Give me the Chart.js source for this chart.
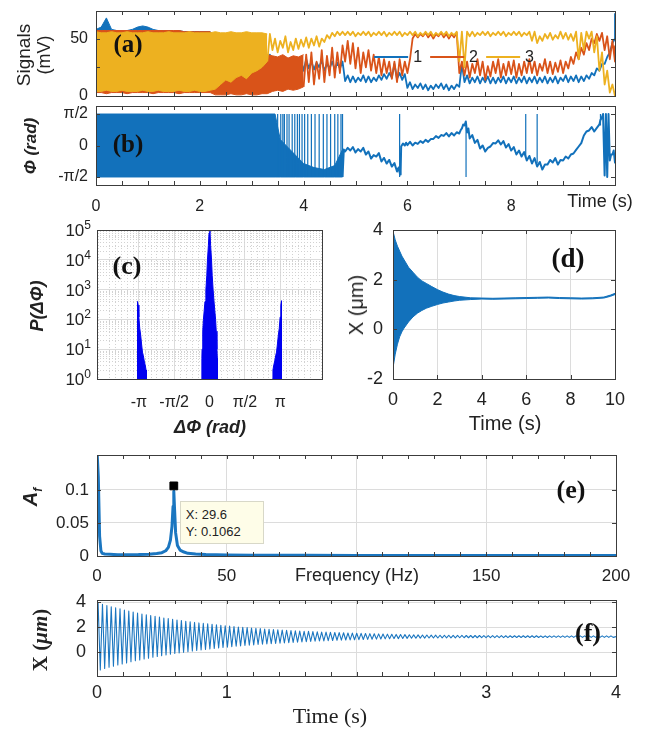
<!DOCTYPE html>
<html>
<head>
<meta charset="utf-8">
<script src="https://cdn.jsdelivr.net/npm/chart.js@4.4.0/dist/chart.umd.min.js"></script>
<style>
body { margin: 0; background: #fff; }
#wrap { position: relative; width: 649px; height: 738px; overflow: hidden; }
canvas { position: absolute; left: 0; top: 0; }
.t { position: absolute; white-space: nowrap; transform: translate(-50%, -50%); font-family: "Liberation Sans", Arial, sans-serif; color: #222; line-height: 1; }
.r { transform: translate(-50%, -50%) rotate(-90deg); }
.pl { font-family: "Liberation Serif", "Times New Roman", serif; font-weight: bold; font-size: 25px; color: #111; }
.bi { font-weight: bold; font-style: italic; }
.lt { transform: translate(-100%, -50%); }
</style>
</head>
<body>
<div id="wrap">
<canvas id="ca" width="649" height="738"></canvas>
<canvas id="cb" width="649" height="738"></canvas>
<canvas id="cc" width="649" height="738"></canvas>
<canvas id="cd" width="649" height="738"></canvas>
<canvas id="ce" width="649" height="738"></canvas>
<canvas id="cf" width="649" height="738"></canvas>
</div>
<script>
// ---- (a) signals, sampled every 0.1 s from 0 to 10 s (low..high swing of the trace)
const sigStep = 0.1;
const sig1DenseEnd = 3.3, sig2DenseEnd = 4.0, sig3DenseEnd = 3.3;
const sig1High = [58,60,68,58,57,57,57,58,60,61,60,58,57,57,57,56,57,56,56,56,56,56,56,
  50,48,45,46,44,40,42,40,38,40,36,
  30,32,30,33,30,31,32,
  30,29,31,28,30,29,30,
  18,17,16,18,17,16,18,19,20,28,20,19,12,
  10,11,10,9,10,11,10,9,10,28,
  18,16,17,16,17,16,16,17,16,17,16,17,16,
  17,16,17,16,17,16,18,17,18,17,18,20,
  24,28,34,46,72];
const sig1Low = [4,4,4,4,4,4,4,4,4,4,4,4,4,4,4,4,4,4,4,4,4,4,4,
  5,5,6,5,6,6,5,6,6,5,6,
  8,10,12,15,18,20,22,
  24,23,25,22,24,23,24,
  13,12,12,13,12,12,13,14,15,16,15,14,7,
  6,7,6,5,6,7,6,5,6,8,
  12,11,12,11,12,11,11,12,11,12,11,12,11,
  12,11,12,11,12,11,13,12,13,12,13,15,
  18,22,28,38,50];
const sig2High = [57,57,57,57,57,57,57,57,57,57,57,57,57,57,57,57,57,56,56,56,56,56,56,
  40,38,35,36,34,35,33,36,35,34,36,
  35,34,36,33,35,34,36,
  38,30,40,35,42,38,44,
  48,46,42,38,40,36,34,32,30,30,32,30,32,
  54,54,55,54,54,55,54,54,55,30,
  30,28,32,30,26,30,32,28,30,31,28,30,32,
  30,28,32,30,29,31,30,34,38,42,46,50,
  54,55,52,48,44];
const sig2Low = [3,3,2,3,3,3,2,3,3,3,3,2,3,3,3,3,2,3,3,3,3,3,3,
  1,1,1,2,1,1,2,1,1,2,2,
  4,5,4,6,5,6,8,
  12,10,15,12,18,16,20,
  30,28,24,20,25,22,20,18,20,15,12,18,20,
  50,51,52,51,50,52,51,50,51,20,
  18,16,20,18,14,17,20,16,18,19,16,18,20,
  20,18,22,20,19,21,20,24,28,32,36,40,
  46,48,40,32,30];
const sig3High = [56,55,55,56,55,55,56,55,55,55,56,55,55,55,56,55,55,55,56,55,55,55,55,
  56,55,55,56,55,55,56,55,55,55,54,
  50,48,52,47,50,49,51,
  50,52,50,53,55,56,56,
  56,56,55,56,56,55,56,56,55,56,56,55,56,
  56,55,56,56,55,56,56,55,56,56,
  56,56,55,56,56,55,56,56,55,56,56,55,56,
  56,52,54,55,53,56,55,54,56,55,56,56,
  52,38,22,10,4];
const sig3Low = [4,4,5,4,4,5,4,4,4,5,4,4,5,4,4,4,5,4,4,5,4,4,5,
  6,10,14,12,16,18,15,20,22,25,30,
  40,38,42,38,40,41,43,
  42,44,43,47,50,52,53,
  53,53,52,53,53,52,53,53,52,53,53,52,53,
  53,52,53,53,52,53,53,52,53,30,
  25,52,52,53,53,52,53,53,52,53,53,52,53,
  48,46,48,50,49,50,50,49,48,32,40,50,
  38,22,10,3,0];

// ---- (b) phase
const phiDenseEnd = 4.75;
const phiTime = [0,3.45,3.55,3.7,3.85,4.0,4.2,4.4,4.6,4.75,4.8,4.9,5.0,5.1,5.2,5.3,5.4,5.5,5.6,5.7,5.8,5.86,
  5.88,5.95,6.0,6.1,6.2,6.3,6.4,6.5,6.6,6.7,6.8,6.9,7.0,7.05,7.1,7.15,7.2,7.3,7.4,7.5,7.6,7.7,7.8,7.9,
  8.0,8.1,8.2,8.3,8.4,8.5,8.6,8.7,8.8,8.9,9.0,9.1,9.2,9.3,9.4,9.5,9.6,9.7,9.74,9.8,9.85,9.9,9.95,10];
const phiLow = [-1.57,-1.57,-1.57,-1.57,-1.57,-1.57,-1.57,-1.57,-1.57,-1.57,-0.3,-0.25,-0.35,-0.3,-0.45,-0.65,-0.55,-0.8,-0.9,-1.05,-1.3,-1.45,
  -0.05,0.0,0.02,0.0,0.08,0.13,0.18,0.33,0.38,0.48,0.45,0.5,0.6,0.85,1.0,0.65,0.35,0.13,-0.15,-0.3,-0.05,0.1,0.05,-0.1,
  -0.25,-0.45,-0.55,-0.75,-0.9,-1.05,-1.2,-0.95,-0.85,-0.95,-0.75,-0.65,-0.4,-0.05,0.5,0.75,0.7,1.05,1.35,-1.5,-1.57,-0.75,-0.45,-0.85];
const phiHigh = [1.57,1.57,0.3,-0.1,-0.5,-0.9,-1.1,-1.2,-1.0,-0.2,-0.12,-0.08,-0.18,-0.12,-0.3,-0.48,-0.38,-0.62,-0.72,-0.88,-1.1,-1.25,
  0.1,0.14,0.18,0.14,0.22,0.28,0.32,0.47,0.52,0.62,0.62,0.66,0.76,1.05,1.2,0.85,0.52,0.28,0.0,-0.12,0.12,0.26,0.22,0.07,
  -0.08,-0.25,-0.33,-0.52,-0.63,-0.82,-0.95,-0.72,-0.63,-0.72,-0.55,-0.45,-0.22,0.12,0.7,0.92,0.88,1.28,1.57,1.57,1.57,-0.45,-0.25,-0.62];
const phiSpikeTime = [3.5,3.56,3.6,3.63,3.68,3.72,3.78,3.83,3.88,3.92,3.97,4.02,4.08,4.15,4.22,4.3,4.38,4.45,4.52,4.6,4.66,4.72,4.75,5.85,7.13,8.28,8.5,9.72];
const phiSpikeLow = [-1.57,-1.57,-1.57,-1.57,-1.57,-1.57,-1.57,-1.57,-1.57,-1.57,-1.57,-1.57,-1.57,-1.57,-1.57,-1.57,-1.57,-1.57,-1.57,-1.57,-1.57,-1.57,-1.57,-1.57,-1.57,-0.6,-0.9,1.0];
const phiSpikeHigh = [1.57,1.57,1.57,1.57,1.57,1.57,1.57,1.57,1.57,1.57,1.57,1.57,1.57,1.57,1.57,1.57,1.57,1.57,1.57,1.57,1.57,1.57,1.57,1.57,1.1,1.57,1.57,1.57];

// ---- (c) histogram of phase difference
const cNegX = [-3.20,-3.20,-3.17,-3.14,-3.10,-3.06,-3.02,-2.98,-2.94,-2.90,-2.86,-2.82,-2.80];
const cNegY = [1,400,300,120,50,30,15,8,6,4,3,2,1];
const cMidX = [-0.34,-0.34,-0.33,-0.30,-0.27,-0.20,-0.16,-0.12,-0.09,-0.05,-0.02,0.02,0.05,0.09,0.12,0.16,0.20,0.27,0.30,0.33,0.35,0.35];
const cMidY = [1,5,10,40,100,400,1000,3000,10000,30000,80000,100000,30000,10000,3000,1000,400,100,40,10,5,1];
const cPosX = [2.80,2.82,2.86,2.90,2.94,2.98,3.02,3.06,3.10,3.14,3.17,3.20,3.20];
const cPosY = [1,2,3,4,6,8,15,30,50,120,300,420,1];
const cTicks = [1, 10, 100, 1000, 10000, 100000];

// ---- (d) displacement envelope over 10 s
const dTime = [0,0.1,0.2,0.3,0.4,0.5,0.7,0.9,1.1,1.3,1.5,1.75,2.0,2.25,2.5,2.75,3.0,3.5,4,4.5,5,5.5,6,6.5,7,7.5,8,8.5,9,9.5,9.8,10];
const dHigh = [3.95,3.6,3.35,3.15,2.95,2.8,2.5,2.3,2.1,1.95,1.85,1.72,1.6,1.5,1.42,1.36,1.32,1.27,1.26,1.25,1.26,1.27,1.28,1.29,1.3,1.28,1.27,1.26,1.27,1.3,1.38,1.45];
const dLow = [-1.55,-1.0,-0.6,-0.3,-0.1,0.05,0.3,0.5,0.65,0.76,0.85,0.93,1.0,1.06,1.1,1.14,1.17,1.2,1.22,1.21,1.22,1.23,1.24,1.25,1.26,1.24,1.23,1.22,1.23,1.26,1.33,1.40];

// ---- (e) spectrum
const eFreq = [0,0.5,1,1.5,2,3,5,8,12,16,20,23,25,26.5,27.5,28.3,28.9,29.3,29.6,29.9,30.3,31,32,33.5,35,38,42,50,60,80,100,130,160,200];
const eAmp = [0.16,0.12,0.03,0.008,0.004,0.003,0.0025,0.002,0.002,0.0022,0.0028,0.0038,0.005,0.008,0.013,0.024,0.045,0.075,0.098,0.07,0.035,0.016,0.009,0.006,0.004,0.003,0.0022,0.0015,0.0012,0.001,0.0008,0.0007,0.0006,0.0006];
const ePeak = { x: 29.6, y: 0.1062 };

// ---- (f) displacement, one peak and one trough per cycle at 29.6 Hz
const fFreq = 29.6;
const fStart = 1.3;
const fPeak = [3.98,3.86,3.76,3.66,3.57,3.49,3.40,3.31,3.24,3.15,
  3.08,3.02,2.95,2.89,2.83,2.76,2.71,2.65,2.60,2.55,
  2.50,2.45,2.40,2.36,2.32,2.28,2.24,2.20,2.16,2.13,
  2.10,2.06,2.03,2.00,1.98,1.95,1.92,1.90,1.87,1.85,
  1.83,1.81,1.79,1.77,1.75,1.73,1.71,1.69,1.68,1.66,
  1.65,1.63,1.62,1.60,1.59,1.58,1.57,1.55,1.54,1.53,
  1.52,1.51,1.50,1.49,1.48,1.47,1.46,1.45,1.44,1.43,1.42,
  1.41,1.40,1.40,1.39,1.39,1.38,1.38,1.37,1.37,1.37,
  1.36,1.36,1.36,1.35,1.35,1.35,1.35,1.34,1.34,1.34,
  1.34,1.34,1.33,1.33,1.33,1.33,1.33,1.33,1.33,1.33,
  1.32,1.32,1.32,1.32,1.32,1.32,1.32,1.32,1.32,1.32,
  1.32,1.32,1.32,1.32,1.32,1.32,1.32];
const fTrough = [-1.42,-1.30,-1.20,-1.12,-1.02,-0.93,-0.85,-0.76,-0.68,-0.61,
  -0.53,-0.47,-0.40,-0.34,-0.28,-0.21,-0.16,-0.10,-0.05,0.00,
  0.05,0.10,0.15,0.19,0.23,0.27,0.31,0.35,0.39,0.42,
  0.45,0.49,0.52,0.55,0.57,0.60,0.63,0.65,0.68,0.70,
  0.72,0.74,0.76,0.78,0.80,0.82,0.84,0.86,0.88,0.89,
  0.91,0.92,0.94,0.95,0.97,0.98,0.99,1.00,1.01,1.02,
  1.03,1.04,1.05,1.06,1.07,1.08,1.09,1.10,1.10,1.11,1.12,
  1.13,1.13,1.14,1.14,1.15,1.15,1.15,1.16,1.16,1.16,
  1.16,1.17,1.17,1.17,1.17,1.17,1.18,1.18,1.18,1.18,
  1.18,1.18,1.18,1.19,1.19,1.19,1.19,1.19,1.19,1.19,
  1.19,1.19,1.20,1.20,1.20,1.20,1.20,1.20,1.20,1.20,
  1.20,1.20,1.20,1.20,1.20,1.20,1.20];

const W = 649, H = 738;
const BLUE = '#1271bb', ORANGE = '#d95319', YELLOW = '#edb120';
const SANS = '"Liberation Sans", "DejaVu Sans", Arial, sans-serif';
const PI = Math.PI;
const wrap = document.getElementById('wrap');

// box around the plot area plus small inward ticks, like the original figure
const framePlugin = {
  id: 'frame',
  afterDatasetsDraw(chart, args, o) {
    const ctx = chart.ctx, a = chart.chartArea, sx = chart.scales.x, sy = chart.scales.y;
    ctx.save();
    ctx.strokeStyle = '#3c3c3c';
    ctx.lineWidth = 1;
    ctx.beginPath();
    (o.xt || []).forEach(v => {
      const p = Math.round(sx.getPixelForValue(v)) + 0.5;
      ctx.moveTo(p, a.bottom); ctx.lineTo(p, a.bottom - 4);
      ctx.moveTo(p, a.top); ctx.lineTo(p, a.top + 4);
    });
    (o.yt || []).forEach(v => {
      const p = Math.round(sy.getPixelForValue(v)) + 0.5;
      ctx.moveTo(a.left, p); ctx.lineTo(a.left + 4, p);
      ctx.moveTo(a.right, p); ctx.lineTo(a.right - 4, p);
    });
    ctx.stroke();
    ctx.strokeRect(Math.round(a.left) + 0.5, Math.round(a.top) + 0.5, Math.round(a.right - a.left), Math.round(a.bottom - a.top));
    ctx.restore();
  }
};

// dotted minor grid for the histogram panel
const minorGridPlugin = {
  id: 'minorGrid',
  beforeDatasetsDraw(chart, args, o) {
    if (!o.on) return;
    const ctx = chart.ctx, a = chart.chartArea, sx = chart.scales.x, sy = chart.scales.y;
    ctx.save();
    ctx.strokeStyle = '#d2d2d2';
    ctx.setLineDash([1, 2]);
    ctx.lineWidth = 1;
    ctx.beginPath();
    for (let d = 0; d < 5; d++) {
      for (let k = 2; k < 10; k++) {
        const p = Math.round(sy.getPixelForValue(k * Math.pow(10, d))) + 0.5;
        ctx.moveTo(a.left, p); ctx.lineTo(a.right, p);
      }
    }
    for (let k = -19; k <= 19; k++) {
      if (k % 6 === 0) continue;
      const p = Math.round(sx.getPixelForValue(k * PI / 12)) + 0.5;
      if (p <= a.left || p >= a.right) continue;
      ctx.moveTo(p, a.top); ctx.lineTo(p, a.bottom);
    }
    ctx.stroke();
    ctx.restore();
  }
};

function axis(min, max, ticks, labels, size, pad, horizontal, grid, type) {
  return {
    type: type || 'linear', min: min, max: max,
    afterFit(s) {
      if (horizontal) { s.height = 40; } else { s.width = 60; }
      s.paddingLeft = 0; s.paddingRight = 0; s.paddingTop = 0; s.paddingBottom = 0;
    },
    afterBuildTicks(s) { s.ticks = ticks.map(v => ({ value: v })); },
    ticks: {
      display: labels !== null, autoSkip: false, maxRotation: 0, padding: pad, color: '#222',
      font: { family: SANS, size: size },
      callback: (v, i) => labels ? labels[i] : ''
    },
    grid: { display: !!grid, color: '#dcdcdc', drawTicks: false },
    border: { display: false }
  };
}

function panel(id, box, datasets, xAxis, yAxis, frame, extra) {
  const plugins = { legend: { display: false }, tooltip: { enabled: false }, frame: frame, minorGrid: { on: !!extra } };
  return new Chart(document.getElementById(id).getContext('2d'), {
    type: 'line',
    data: { datasets: datasets },
    options: {
      responsive: false, animation: false, events: [],
      layout: { padding: { left: box.l - 60, top: box.t, right: W - box.r, bottom: H - box.b - 40 } },
      elements: { point: { radius: 0 }, line: { tension: 0, borderJoinStyle: 'round' } },
      plugins: plugins,
      scales: { x: xAxis, y: yAxis }
    },
    plugins: [framePlugin, minorGridPlugin]
  });
}

// solid band where the trace oscillates too fast to resolve, a jagged line after denseEnd
function trace(times, lows, highs, denseEnd, color, order, width) {
  const lo = [], hi = [], line = [];
  times.forEach((t, i) => {
    if (t <= denseEnd + 1e-9) {
      lo.push({ x: t, y: lows[i] });
      hi.push({ x: t, y: highs[i] });
    }
    if (t >= denseEnd - 1e-9) {
      const next = i + 1 < times.length ? times[i + 1] : t;
      line.push({ x: t, y: lows[i] }, { x: (t + next) / 2, y: highs[i] });
    }
  });
  return [
    { data: lo, borderColor: color, borderWidth: 1, fill: false, order: order },
    { data: hi, borderColor: color, borderWidth: 1, backgroundColor: color, fill: '-1', order: order },
    { data: line, borderColor: color, borderWidth: width || 1.8, fill: false, order: order }
  ];
}

function steps(n, step) {
  const out = [];
  for (let i = 0; i < n; i++) out.push(Math.round(i * step * 1000) / 1000);
  return out;
}

function range(a, b, s) {
  const out = [];
  for (let v = a; v <= b + 1e-9; v += s) out.push(Math.round(v * 1000) / 1000);
  return out;
}

// (a)
const sigTime = steps(sig1High.length, sigStep);
panel('ca', { l: 96, t: 11, r: 615, b: 96 },
  [].concat(trace(sigTime, sig1Low, sig1High, sig1DenseEnd, BLUE, 2),
    trace(sigTime, sig2Low, sig2High, sig2DenseEnd, ORANGE, 1),
    trace(sigTime, sig3Low, sig3High, sig3DenseEnd, YELLOW, 0)),
  axis(0, 10, [0, 2, 4, 6, 8, 10], null, 16, 12, true),
  axis(0, 74, [0, 50], ['0', '50'], 16, 8, false),
  { xt: range(0, 10, 0.5), yt: [0, 25, 50] });

// (b)
const spikes = [];
phiSpikeTime.forEach((t, i) => {
  spikes.push({ x: t, y: phiSpikeLow[i] }, { x: t, y: phiSpikeHigh[i] }, { x: t, y: null });
});
panel('cb', { l: 96, t: 106, r: 615, b: 185 },
  trace(phiTime, phiLow, phiHigh, phiDenseEnd, BLUE, 1, 2).concat([{ data: spikes, borderColor: BLUE, borderWidth: 1.2, fill: false, order: 0 }]),
  axis(0, 10, [0, 2, 4, 6, 8, 10], ['0', '2', '4', '6', '8', ''], 16, 12, true),
  axis(-1.97, 1.97, [-PI / 2, 0, PI / 2], ['-\u03c0/2', '0', '\u03c0/2'], 16, 8, false),
  { xt: range(0, 10, 0.5), yt: [-PI / 2, 0, PI / 2] });

// (c)
const cColor = '#0000f0';
function hist(xs, ys) {
  return { data: xs.map((x, i) => ({ x: x, y: ys[i] })), borderColor: cColor, borderWidth: 1, backgroundColor: cColor, fill: 'start' };
}
const cChart = panel('cc', { l: 97, t: 230, r: 322, b: 379 },
  [hist(cNegX, cNegY), hist(cMidX, cMidY), hist(cPosX, cPosY)],
  axis(-5, 5, [-PI, -PI / 2, 0, PI / 2, PI], ['-\u03c0', '-\u03c0/2', '0', '\u03c0/2', '\u03c0'], 16, 14, true, true),
  axis(1, 100000, cTicks, ['', '', '', '', '', ''], 17, 7, false, true, 'logarithmic'),
  {}, true);

// (d)
panel('cd', { l: 393, t: 230, r: 615, b: 379 },
  trace(dTime, dLow, dHigh, 10, BLUE, 0),
  axis(0, 10, [0, 2, 4, 6, 8, 10], ['0', '2', '4', '6', '8', '10'], 18, 10, true, true),
  axis(-2, 4, [-2, 0, 2, 4], ['-2', '0', '2', '4'], 18, 10, false, true),
  { xt: [0, 2, 4, 6, 8, 10], yt: [-2, 0, 2, 4] });

// (e)
const eChart = panel('ce', { l: 97, t: 455, r: 616, b: 556 },
  [
    { data: [ePeak], showLine: false, pointStyle: 'rect', pointRadius: 5.5, backgroundColor: '#000', borderColor: '#000', order: 0 },
    { data: eFreq.map((f, i) => ({ x: f, y: eAmp[i] })), borderColor: '#1b76c0', borderWidth: 3, fill: false, order: 1 }
  ],
  axis(0, 200, [0, 50, 100, 150, 200], ['0', '50', '', '150', '200'], 17, 10, true, true),
  axis(0, 0.153, [0, 0.05, 0.1], ['0', '0.05', '0.1'], 17, 8, false, true),
  { xt: range(0, 200, 10), yt: [0, 0.05, 0.1] });

// (f)
const fData = [{ x: 0, y: fStart }];
for (let k = 0; k < Math.min(fPeak.length, fTrough.length); k++) {
  fData.push({ x: (k + 0.25) / fFreq, y: fPeak[k] }, { x: (k + 0.75) / fFreq, y: fTrough[k] });
}
fData.push({ x: 4, y: 1.26 });
panel('cf', { l: 97, t: 600, r: 616, b: 676 },
  [{ data: fData, borderColor: '#1b76c0', borderWidth: 1.1, fill: false }],
  axis(0, 4, [0, 1, 2, 3, 4], ['0', '1', '', '3', '4'], 18, 6, true, true),
  axis(-1.9, 4.2, [0, 2, 4], ['0', '2', '4'], 18, 11, false, true),
  { xt: range(0, 4, 0.2), yt: [0, 2, 4] });

// ---- texts
function addText(html, x, y, cls, css) {
  const d = document.createElement('div');
  d.className = 't ' + (cls || '');
  d.innerHTML = html;
  d.style.left = x + 'px';
  d.style.top = y + 'px';
  if (css) d.style.cssText += css;
  wrap.appendChild(d);
  return d;
}

// log tick labels of (c) with real superscripts
cTicks.forEach((v, i) => {
  addText('10<sup style="font-size:12px;vertical-align:7px">' + i + '</sup>', 91, cChart.scales.y.getPixelForValue(v) - 1, 'lt', 'font-size:17px;');
});

addText('(a)', 128, 43, 'pl');
addText('(b)', 128, 143, 'pl');
addText('(c)', 127, 266, 'pl', 'font-size:26px;');
addText('(d)', 568, 258, 'pl', 'font-size:27px;');
addText('(e)', 571, 490, 'pl', 'font-size:26px;');
addText('(f)', 588, 633, 'pl', 'font-size:26px;');

addText('Signals', 23, 55, 'r', 'font-size:19px;');
addText('(mV)', 44, 55, 'r', 'font-size:18px;');
addText('\u03a6 (rad)', 30, 146, 'r bi', 'font-size:17px;');
addText('Time (s)', 600, 201, '', 'font-size:18px;');
addText('P(\u0394\u03a6)', 37, 306, 'r bi', 'font-size:18px;');
addText('\u0394\u03a6 (rad)', 210, 427, 'bi', 'font-size:18px;');
addText('X (\u03bcm)', 356, 305, 'r', 'font-size:20px;');
addText('Time (s)', 505, 423, '', 'font-size:20px;');
addText('A<sub style="font-size:12px">f</sub>', 32, 497, 'r bi', 'font-size:20px;');
addText('Frequency (Hz)', 357, 575, '', 'font-size:18px;');
addText('X (<i>\u03bcm</i>)', 40, 640, 'r', 'font-family:"Liberation Serif",serif;font-weight:bold;font-size:21px;');
addText('Time (s)', 330, 716, '', 'font-family:"Liberation Serif",serif;font-size:22px;');

// legend of (a)
const leg = addText('', 450, 57, '', 'font-size:16px;display:flex;align-items:center;');
[['1', BLUE], ['2', ORANGE], ['3', YELLOW]].forEach(p => {
  leg.innerHTML += '<span style="display:inline-block;width:34px;height:2px;background:' + p[1] + ';margin:0 5px 0 8px"></span><span>' + p[0] + '</span>';
});

// data tip of (e)
const px = eChart.scales.x.getPixelForValue(ePeak.x);
const py = eChart.scales.y.getPixelForValue(ePeak.y);
const tip = document.createElement('div');
tip.style.cssText = 'position:absolute;left:' + (px + 6) + 'px;top:' + (py + 15) + 'px;width:74px;padding:4px 3px 3px 5px;background:#fefde8;border:1px solid #d8d8c8;font:13px ' + SANS + ';color:#222;line-height:17px;';
tip.innerHTML = 'X: ' + ePeak.x + '<br>Y: ' + ePeak.y;
wrap.appendChild(tip);
</script>
</body>
</html>
